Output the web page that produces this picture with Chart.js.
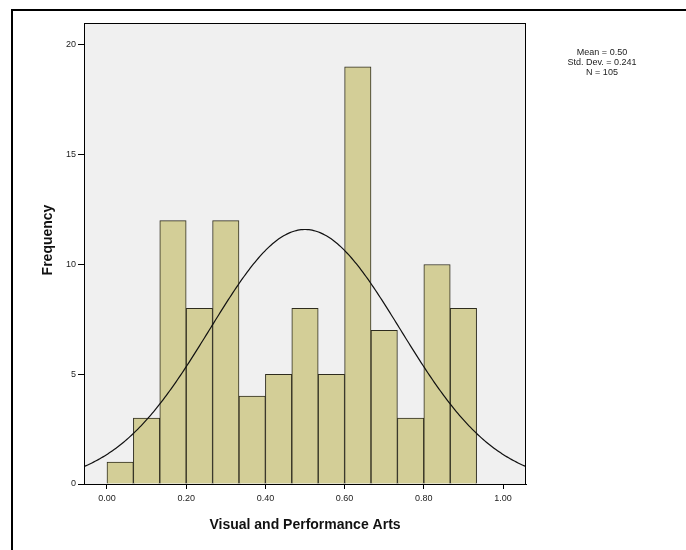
<!DOCTYPE html>
<html>
<head>
<meta charset="utf-8">
<script src="https://cdn.jsdelivr.net/npm/chart.js@4/dist/chart.umd.min.js"></script>
<style>
  html, body { margin: 0; padding: 0; background: #ffffff; }
  #wrap { width: 686px; height: 550px; }
</style>
</head>
<body>
<div id="wrap"><canvas id="hist" width="686" height="550"></canvas></div>
<script>
// Histogram bins (edges) and counts
const BIN_EDGES = [0.0000, 0.0667, 0.1333, 0.2000, 0.2667, 0.3333, 0.4000, 0.4667,
                   0.5333, 0.6000, 0.6667, 0.7333, 0.8000, 0.8667, 0.9333];
const FREQUENCY = [1, 3, 12, 8, 12, 4, 5, 8, 5, 19, 7, 3, 10, 8];

// Summary statistics shown beside the plot
const MEAN = 0.50;
const STD_DEV = 0.241;
const N_CASES = 105;

// Axis ranges and tick positions
const X_RANGE = [-0.058, 1.058];
const Y_MAX = 21;
const X_TICKS = [0.0, 0.2, 0.4, 0.6, 0.8, 1.0];
const Y_TICKS = [0, 5, 10, 15, 20];

const X_TITLE = 'Visual and Performance Arts';
const Y_TITLE = 'Frequency';
const STATS_LINES = [
  'Mean = ' + MEAN.toFixed(2),
  'Std. Dev. = ' + STD_DEV.toFixed(3),
  'N = ' + N_CASES
];

const FONT = '"Liberation Sans", Arial, sans-serif';

// bars placed at bin midpoints on a linear axis
const barPoints = FREQUENCY.map((f, i) => ({
  x: (BIN_EDGES[i] + BIN_EDGES[i + 1]) / 2,
  y: f
}));

// fitted normal curve scaled to counts per bin
const binWidth = BIN_EDGES[1] - BIN_EDGES[0];
const curvePoints = [];
for (let x = X_RANGE[0]; x <= X_RANGE[1] + 1e-9; x += 0.004) {
  const z = (x - MEAN) / STD_DEV;
  const dens = Math.exp(-0.5 * z * z) / (STD_DEV * Math.sqrt(2 * Math.PI));
  curvePoints.push({ x: x, y: N_CASES * binWidth * dens });
}

const decor = {
  id: 'decor',
  beforeDraw(chart) {
    const { ctx, chartArea: a } = chart;
    ctx.save();
    ctx.fillStyle = '#ffffff';
    ctx.fillRect(0, 0, chart.width, chart.height);
    ctx.fillStyle = '#f0f0f0';
    ctx.fillRect(a.left, a.top, a.right - a.left, a.bottom - a.top);
    ctx.restore();
  },
  afterDraw(chart) {
    const { ctx, chartArea: a } = chart;
    ctx.save();
    // plot box
    ctx.strokeStyle = '#000000';
    ctx.lineWidth = 1;
    ctx.strokeRect(a.left + 0.5, a.top + 0.5, a.right - a.left - 1, a.bottom - a.top);
    // outer frame
    ctx.lineWidth = 2;
    ctx.strokeRect(12, 10, 700, 560);

    // axis titles
    ctx.fillStyle = '#111111';
    ctx.font = 'bold 14px ' + FONT;
    ctx.textAlign = 'center';
    ctx.textBaseline = 'middle';
    ctx.fillText(X_TITLE, (a.left + a.right) / 2, 525);
    ctx.save();
    ctx.translate(48, 240);
    ctx.rotate(-Math.PI / 2);
    ctx.fillText(Y_TITLE, 0, 0);
    ctx.restore();

    // statistics block
    ctx.font = '9px ' + FONT;
    ctx.fillStyle = '#222222';
    STATS_LINES.forEach((t, i) => ctx.fillText(t, 602, 53 + i * 10));
    ctx.restore();
  }
};

new Chart(document.getElementById('hist'), {
  type: 'bar',
  data: {
    datasets: [
      {
        type: 'bar',
        data: barPoints,
        backgroundColor: '#d3ce97',
        borderColor: '#2e2c1e',
        borderWidth: 1,
        barPercentage: 1,
        categoryPercentage: 1,
        grouped: false,
        order: 2
      },
      {
        type: 'line',
        data: curvePoints,
        borderColor: '#111111',
        borderWidth: 1.2,
        pointRadius: 0,
        fill: false,
        tension: 0,
        order: 1
      }
    ]
  },
  options: {
    responsive: false,
    animation: false,
    devicePixelRatio: 1,
    layout: { padding: { left: 0, right: 160, top: 23, bottom: 0 } },
    plugins: { legend: { display: false }, tooltip: { enabled: false } },
    scales: {
      x: {
        type: 'linear',
        min: X_RANGE[0],
        max: X_RANGE[1],
        offset: false,
        grid: { display: true, offset: false, drawOnChartArea: false, drawTicks: true, tickLength: 5, color: '#000000' },
        border: { display: true, color: '#000000', width: 1 },
        ticks: {
          font: { size: 9, family: FONT },
          color: '#222222',
          padding: 4,
          maxRotation: 0,
          callback: v => Number(v).toFixed(2)
        },
        afterBuildTicks: s => { s.ticks = X_TICKS.map(v => ({ value: v })); },
        afterFit: s => { s.height = 66; }
      },
      y: {
        type: 'linear',
        min: 0,
        max: Y_MAX,
        grid: { display: true, offset: false, drawOnChartArea: false, drawTicks: true, tickLength: 6, color: '#000000' },
        border: { display: true, color: '#000000', width: 1 },
        ticks: {
          font: { size: 9, family: FONT },
          color: '#222222',
          padding: 2
        },
        afterBuildTicks: s => { s.ticks = Y_TICKS.map(v => ({ value: v })); },
        afterFit: s => { s.width = 84; }
      }
    }
  },
  plugins: [decor]
});
</script>
</body>
</html>
